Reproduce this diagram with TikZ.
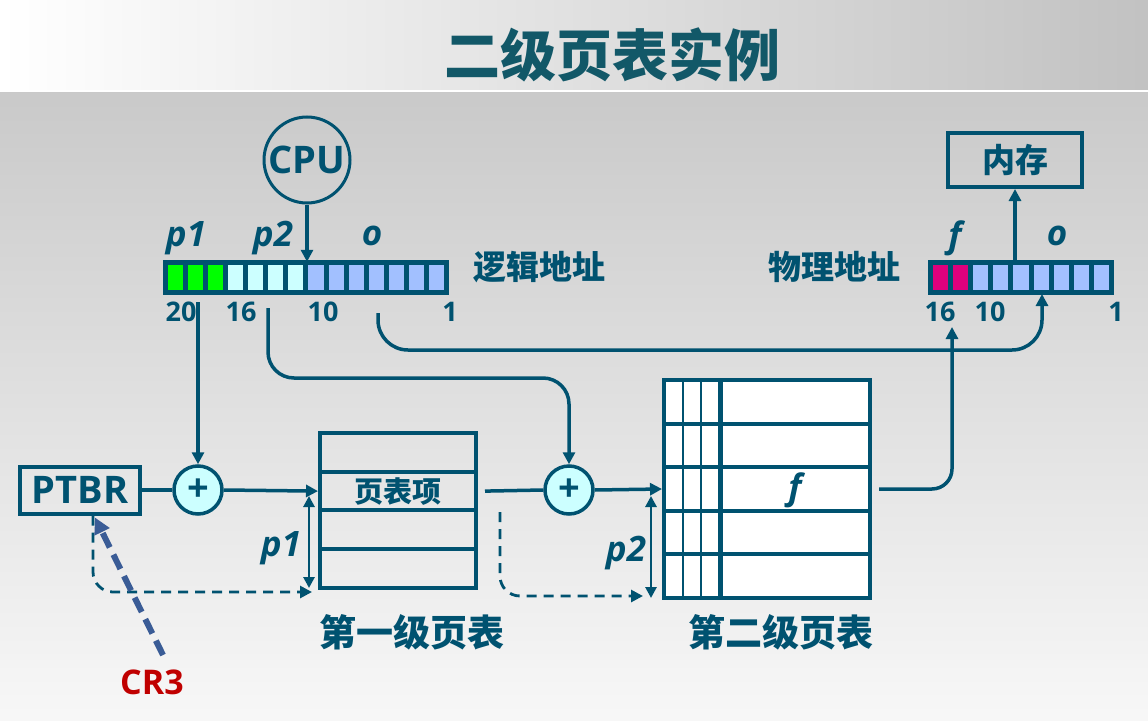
\documentclass[tikz,border=0pt]{standalone}
\usepackage{fontspec}
\setmainfont{Open Sans}
\newfontfamily\cjk{Noto Sans CJK SC}
\usetikzlibrary{arrows.meta}

\definecolor{ink}{RGB}{0,82,112}
\definecolor{titleink}{RGB}{18,88,104}
\definecolor{bitgreen}{RGB}{0,255,0}
\definecolor{bitcyan}{RGB}{204,255,255}
\definecolor{bitblue}{RGB}{162,192,255}
\definecolor{bitred}{RGB}{222,0,125}
\definecolor{crred}{RGB}{192,0,0}
\definecolor{crblue}{RGB}{58,92,150}

\tikzset{
  wire/.style={draw=ink, line width=3.5pt},
  arr/.style={wire, -{Triangle[length=12pt,width=12pt]}},
  dasharr/.style={draw=ink, line width=2.8pt, dash pattern=on 10pt off 7pt,
    -{Triangle[length=12pt,width=12pt]}},
  span/.style={draw=ink, line width=2.8pt,
    {Triangle[length=11pt,width=11pt]}-{Triangle[length=11pt,width=11pt]}},
  bitcell/.style={draw=ink, line width=5pt},
  box/.style={draw=ink, line width=4pt, inner sep=0pt},
  adder/.style={circle, draw=ink, line width=3.5pt, fill=bitcyan, minimum size=48pt,
    inner sep=0pt, text=ink, font=\bfseries\fontsize{38}{38}\selectfont},
  lbl/.style={text=ink, font=\bfseries\fontsize{27}{29}\selectfont},
  ital/.style={text=ink, font=\bfseries\itshape\fontsize{35}{37}\selectfont},
  zh/.style={text=ink, font=\cjk\bfseries\fontsize{33}{35}\selectfont}
}

\begin{document}
\begin{tikzpicture}[x=1pt, y=-1pt]
%%   background and title
    \useasboundingbox (0,0) rectangle (1148,720);
    \shade[top color=black!21, bottom color=black!3] (0,92) rectangle (1148,720);
    \shade[left color=white, right color=black!24] (0,0) rectangle (1148,91);
    \draw[white, line width=2pt] (0,91) -- (1148,91);
    \node[text=titleink, font=\cjk\bfseries\fontsize{56}{58}\selectfont] (title) at (612,55) {二级页表实例};

%%   logical address
    \node[inner sep=0pt, minimum width=282pt, minimum height=30pt] (la) at (306,277) {};
    \foreach \c [count=\i from 0] in {bitgreen,bitgreen,bitgreen,bitcyan,bitcyan,bitcyan,bitcyan,
        bitblue,bitblue,bitblue,bitblue,bitblue,bitblue,bitblue}
      \draw[bitcell, fill=\c] ({165+\i*20.14},262) rectangle ++(20.14,30);
    \node[ital] (lp1) at (186,238) {p1};
    \node[ital] (lp2) at (273,238) {p2};
    \node[ital] (lo) at (372,236) {o};
    \node[lbl] (n20) at (181,312) {20};
    \node[lbl] (n16) at (241,312) {16};
    \node[lbl] (n10) at (323,312) {10};
    \node[lbl] (n1) at (450,312) {1};
    \node[zh] (logic) at (539,267) {逻辑地址};

    \node[circle, draw=ink, line width=3pt, minimum width=86pt, inner sep=0pt,
      text=ink, font=\bfseries\fontsize{38}{40}\selectfont] (cpu) at (307,160) {CPU};
    \draw[arr] (cpu.south) -- (cpu.south |- la.north);

%%   physical address
    \node[inner sep=0pt, minimum width=182pt, minimum height=30pt] (pa) at (1021,277) {};
    \foreach \c [count=\i from 0] in {bitred,bitred,bitblue,bitblue,bitblue,bitblue,bitblue,bitblue,bitblue}
      \draw[bitcell, fill=\c] ({930+\i*20.22},262) rectangle ++(20.22,30);
    \node[ital] (pf) at (955,238) {f};
    \node[ital] (po) at (1057,236) {o};
    \node[lbl] (m16) at (940,312) {16};
    \node[lbl] (m10) at (990,312) {10};
    \node[lbl] (m1) at (1116,312) {1};
    \node[zh] (phys) at (834,267) {物理地址};

    \node[box, minimum width=134pt, minimum height=54pt, zh] (mem) at (1015,160) {内存};
    \draw[arr] (mem.south |- pa.north) -- (mem.south);

%%   PTBR and adders
    \node[box, minimum width=120pt, minimum height=47pt, text=ink,
      font=\bfseries\fontsize{38}{40}\selectfont] (ptbr) at (80,490) {PTBR};
    \node[adder] (adda) at (198,490) {+};
    \node[adder] (addb) at (569,490) {+};

%%   first level table
    \foreach \r/\t in {1/,2/页表项,3/,4/}
      \node[box, minimum width=156pt, minimum height=38.75pt, text=ink,
        font=\cjk\bfseries\fontsize{29}{31}\selectfont] (ta\r) at (398,{413.6+38.75*\r}) {\t};
    \node[zh, font=\cjk\bfseries\fontsize{37}{39}\selectfont] (tanm) at (412,632) {第一级页表};

%%   second level table
    \foreach \r in {1,...,5}
      \node[box, fill=white, minimum width=206pt, minimum height=43.6pt] (tb\r) at (767,{358.2+43.6*\r}) {};
    \draw[ink, line width=2.5pt] (683,380) -- (683,598);
    \draw[ink, line width=2.5pt] (701,380) -- (701,598);
    \draw[ink, line width=5pt] (720,380) -- (720,598);
    \node[ital] (fval) at (795,490) {f};
    \node[zh, font=\cjk\bfseries\fontsize{37}{39}\selectfont] (tbnm) at (781,632) {第二级页表};

%%   connectors
    \coordinate (p1out) at (198,302);
    \coordinate (p2out) at (268,308);
    \coordinate (oout) at (378,313);
    \coordinate (fin) at (952,327);
    \coordinate (oin) at (1042,294);
    \draw[wire] (ptbr.east) -- (adda.west);
    \draw[arr] (adda.east) -- (ta2.west);
    \draw[arr] (p1out) -- (adda.north);
    \draw[wire] ([xshift=7pt]ta2.east) -- (addb.west);
    \draw[arr] (addb.east) -- (tb3.west);
    \draw[arr, rounded corners=26pt] (p2out) |- (addb.north |- 0,378) -- (addb.north);
    \draw[arr, rounded corners=30pt] (oout) |- (oin |- 0,350) -- (oin);
    \draw[arr, rounded corners=20pt] ([xshift=7pt]tb3.east) -- (fin |- tb3.east) -- (fin);

%%   offsets inside the tables
    \coordinate (da) at (312,592);
    \coordinate (db) at (643,596);
    \draw[dasharr, rounded corners=20pt] ([xshift=13pt]ptbr.south) |- (da);
    \draw[dasharr, rounded corners=20pt] (500,512) |- (db);
    \draw[span] (309,496) -- (309,588);
    \draw[span] (651,496) -- (651,598);
    \node[ital] (lblp1) at (281,548) {p1};
    \node[ital] (lblp2) at (626,553) {p2};

%%   CR3
    \node[text=crred, font=\bfseries\fontsize{34}{36}\selectfont] (cr3) at (152,682) {CR3};
    \draw[crblue, line width=6pt, dash pattern=on 16pt off 8pt,
      -{Triangle[length=16pt,width=16pt]}] (163,655) -- ([xshift=15pt,yshift=-2pt]ptbr.south);
\end{tikzpicture}
\end{document}
